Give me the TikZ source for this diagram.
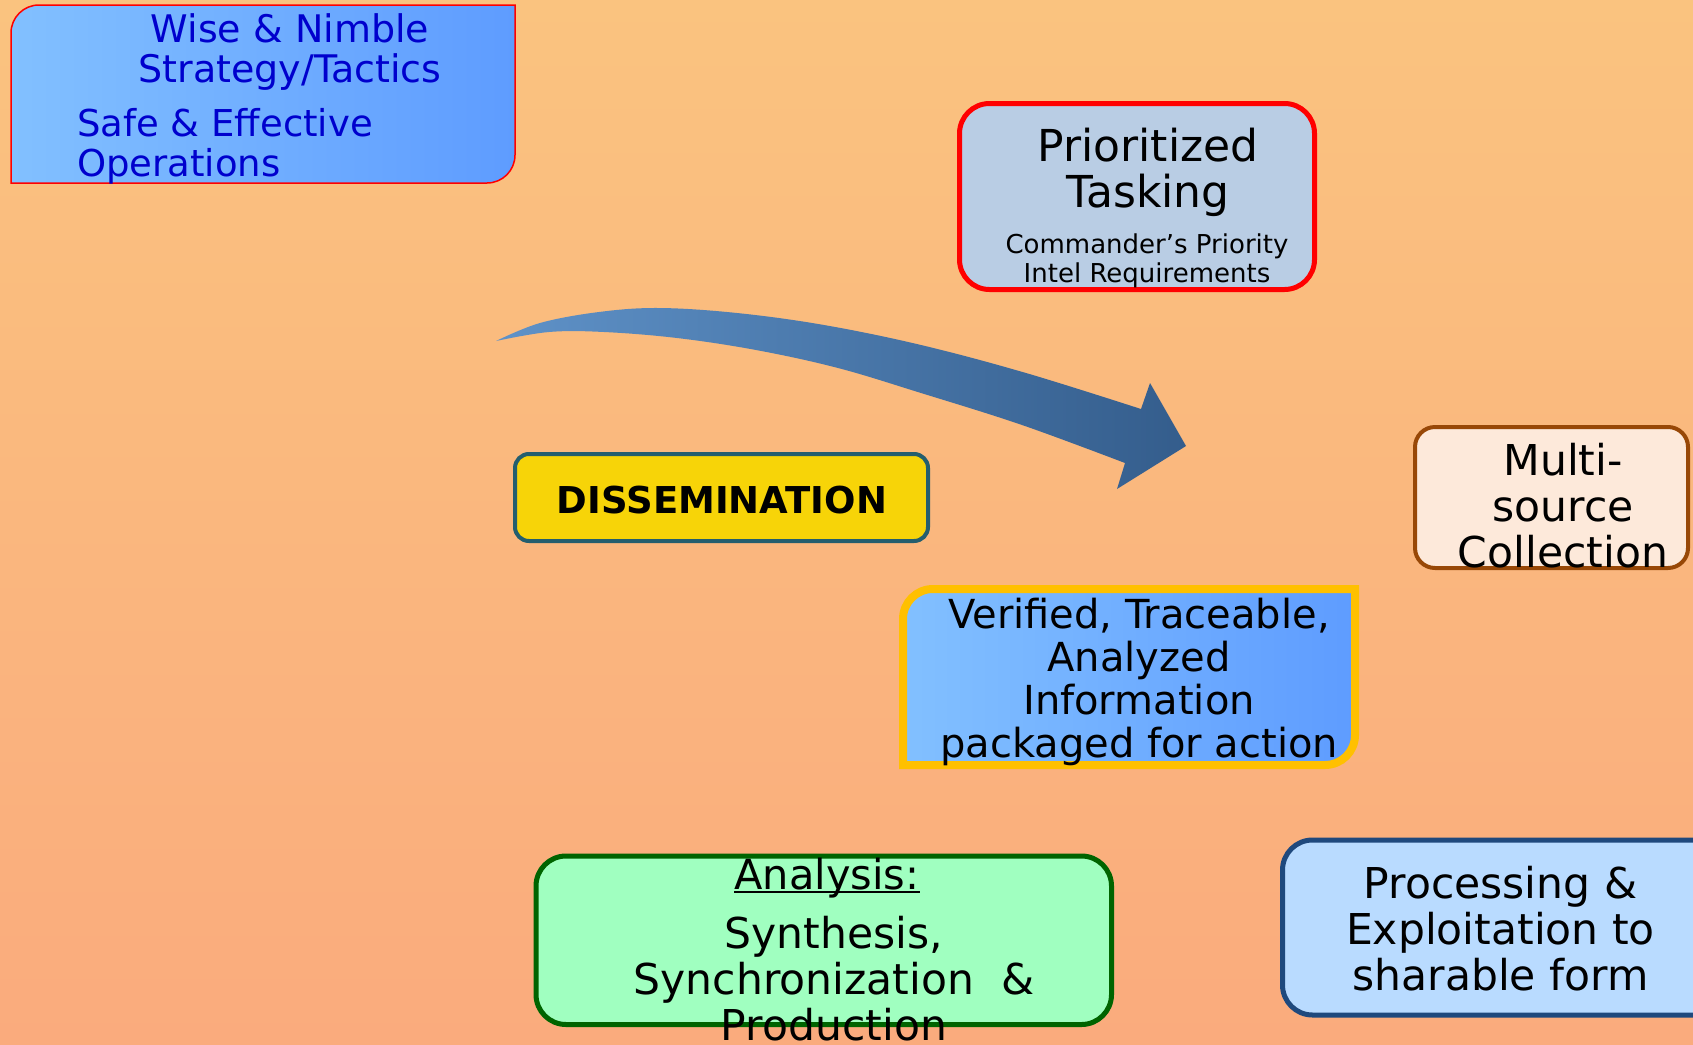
\documentclass[tikz,border=0pt]{standalone}
\usepackage{fontspec}
\setmainfont{DejaVu Sans}
\usetikzlibrary{positioning}

\definecolor{bgtop}{RGB}{250,195,127}
\definecolor{bgbot}{RGB}{250,171,125}
\definecolor{sky}{RGB}{130,192,255}
\definecolor{skydark}{RGB}{94,156,255}
\definecolor{wiseblue}{RGB}{0,0,205}
\definecolor{taskfill}{RGB}{185,205,228}
\definecolor{dissfill}{RGB}{247,212,8}
\definecolor{dissline}{RGB}{36,94,110}
\definecolor{collfill}{RGB}{253,233,218}
\definecolor{collline}{RGB}{152,72,7}
\definecolor{infoline}{RGB}{255,192,0}
\definecolor{anafill}{RGB}{160,255,192}
\definecolor{analine}{RGB}{0,100,0}
\definecolor{procfill}{RGB}{185,219,255}
\definecolor{procline}{RGB}{31,73,125}
\definecolor{arrowlight}{RGB}{95,146,200}
\definecolor{arrowdark}{RGB}{52,93,140}

\tikzset{
  boxtext/.style={inner sep=0pt, align=center, anchor=north},
  linetext/.style={inner sep=0pt, anchor=base},
}

\begin{document}
\begin{tikzpicture}[x=1pt, y=-1pt]
	% background
	\shade[top color=bgtop, bottom color=bgbot] (0,0) rectangle (1693,1044);
	\useasboundingbox (0,0) rectangle (1693,1044);
	% boxes
	\draw[red, line width=1.5pt, left color=sky, right color=skydark] (11,183) -- (11,33) .. controls (11,17.5) and (23.5,5) .. (39,5) -- (515,5) -- (515,155) .. controls (515,170.5) and (502.5,183) .. (487,183) -- cycle;
	\draw[red, line width=5pt, fill=taskfill, rounded corners=30pt] (959.5,103.5) rectangle (1314.5,289.5);
	\draw[dissline, line width=4pt, fill=dissfill, rounded corners=14pt] (515,454) rectangle (928,541);
	\draw[collline, line width=4pt, fill=collfill, rounded corners=20pt] (1415,427) rectangle (1688,568);
	\draw[infoline, line width=8pt, left color=sky, right color=skydark] (903,765) -- (903,619) .. controls (903,602.4) and (916.4,589) .. (933,589) -- (1355,589) -- (1355,735) .. controls (1355,751.6) and (1341.6,765) .. (1325,765) -- cycle;
	\draw[analine, line width=5pt, fill=anafill, rounded corners=30pt] (536,856) rectangle (1111.5,1024.5);
	\draw[procline, line width=5pt, fill=procfill, rounded corners=30pt] (1282.5,840) rectangle (1730,1015);
	% curved arrow
	\shade[left color=arrowlight, right color=arrowdark] (496,341) -- plot[smooth, tension=0.6] coordinates {(496,341) (540,323) (599,312) (659,308) (737,313) (824,325) (921,345) (1026,373) (1141,409)} -- (1150,383) -- (1186,446) -- (1117,489) -- (1125,463) -- plot[smooth, tension=0.6] coordinates {(1125,463) (1022,425) (921,393) (838,368) (756,350) (677,338) (604,332) (549,332) (496,341)} -- cycle;
	% texts
	\node[boxtext, text=wiseblue, font=\fontsize{38}{40}\selectfont] (wise) at (290,13.4) {Wise \& Nimble\\Strategy/Tactics};
	\node[boxtext, anchor=north west, align=left, text=wiseblue, font=\fontsize{37}{39.3}\selectfont] (safe) at (77,108.5) {Safe \& Effective\\Operations};
	\node[boxtext, font=\fontsize{44}{46}\selectfont] (prio) at (1148,127.6) {Prioritized\\Tasking};
	\node[boxtext, font=\fontsize{26}{29}\selectfont] (cpir) at (1147,233.2) {Commander’s Priority\\Intel Requirements};
	\node[linetext, font=\bfseries\fontsize{37}{40}\selectfont] (diss) at (722,513.3) {DISSEMINATION};
	\node[boxtext, font=\fontsize{42.5}{46}\selectfont] (coll) at (1563,442.7) {Multi-\\source\\Collection};
	\node[boxtext, font=\fontsize{40}{43}\selectfont] (info) at (1139,597.9) {Verified, Traceable,\\Analyzed\\Information\\packaged for action};
	\node[linetext, font=\fontsize{41.5}{44}\selectfont] (ana) at (827,889.3) {Analysis:};
	\draw[line width=2pt] ([yshift=-3pt]ana.base west) -- ([yshift=-3pt]ana.base east);
	\node[boxtext, font=\fontsize{42.5}{46}\selectfont] (synth) at (834,916) {Synthesis,\\Synchronization\ \ \&\\Production};
	\node[boxtext, font=\fontsize{42.5}{46}\selectfont] (proc) at (1500.5,866) {Processing \&\\Exploitation to\\sharable form};
\end{tikzpicture}
\end{document}
